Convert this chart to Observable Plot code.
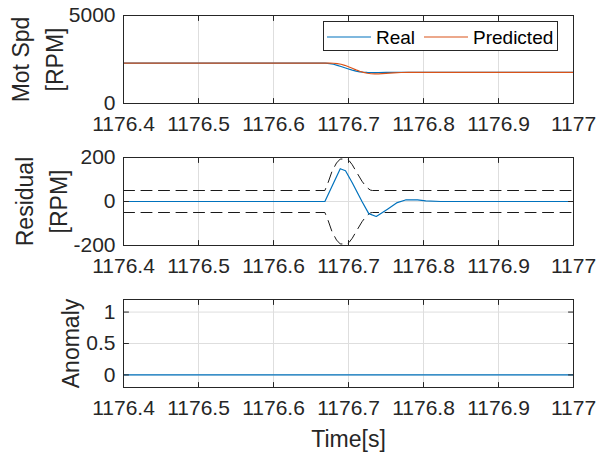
<!DOCTYPE html>
<html>
<head>
<meta charset="utf-8">
<script src="https://cdn.jsdelivr.net/npm/d3@7"></script>
<script src="https://cdn.jsdelivr.net/npm/@observablehq/plot@0.6"></script>
<style>
  html, body { margin: 0; padding: 0; background: #ffffff; }
  #chart { position: relative; width: 596px; height: 453px; background: #ffffff; }
  #chart svg { display: block; }
  #legend { position: absolute; left: 323px; top: 21px; }
</style>
</head>
<body>
<div id="chart"></div>
<script>
// ---- shared time axis ----
const xTicks = [1176.4, 1176.5, 1176.6, 1176.7, 1176.8, 1176.9, 1177];
const xTickLabels = ["1176.4", "1176.5", "1176.6", "1176.7", "1176.8", "1176.9", "1177"];

// ---- motor speed [RPM] ----
const speedTime = [1176.40, 1176.669, 1176.675, 1176.68, 1176.685, 1176.69, 1176.695, 1176.70,
                   1176.705, 1176.71, 1176.715, 1176.72, 1176.725, 1176.73, 1176.735, 1176.74,
                   1176.75, 1176.76, 1176.77, 1176.78, 1176.80, 1176.90, 1177.00];
const speedReal = [2290, 2290, 2270, 2230, 2170, 2100, 2030, 1960,
                   1895, 1840, 1800, 1775, 1765, 1760, 1758, 1760,
                   1765, 1770, 1772, 1772, 1772, 1772, 1772];
const speedPredicted = [2290, 2290, 2290, 2288, 2270, 2230, 2170, 2090,
                        2000, 1910, 1830, 1770, 1720, 1690, 1680, 1685,
                        1710, 1740, 1762, 1772, 1772, 1772, 1772];
const speedTicks = [0, 5000];
const speedTickLabels = ["0", "5000"];

// ---- residual [RPM] and its detection threshold ----
const residualTime = [1176.40, 1176.6685, 1176.689, 1176.696, 1176.705, 1176.718, 1176.727, 1176.737,
                      1176.752, 1176.765, 1176.776, 1176.792, 1176.803, 1176.823, 1176.90, 1177.00];
const residualValue = [0, 0, 149, 140, 85, 0, -55, -68,
                       -35, -5, 7, 7, 3, 0, 0, 0];
const thresholdTime = [1176.40, 1176.6685, 1176.673, 1176.678, 1176.684, 1176.689, 1176.698, 1176.701,
                       1176.705, 1176.711, 1176.718, 1176.724, 1176.729, 1176.732, 1177.00];
const thresholdUpper = [50, 50, 88, 137, 175, 193, 193, 185, 167, 132, 92, 65, 52, 50, 50];
const thresholdLower = [-50, -50, -88, -137, -175, -193, -193, -185, -167, -132, -92, -65, -52, -50, -50];
const residualTicks = [-200, 0, 200];
const residualTickLabels = ["-200", "0", "200"];

// ---- anomaly flag ----
const anomalyTime = [1176.40, 1177.00];
const anomalyValue = [0, 0];
const anomalyTicks = [0, 0.5, 1];
const anomalyTickLabels = ["0", "0.5", "1"];

// ---- legend ----
const seriesNames = ["Real", "Predicted"];
const seriesColors = ["#0072BD", "#D95319"];

// ---- style ----
const FONT = '"Liberation Sans", Arial, Helvetica, sans-serif';
const INK = "#262626";
const GRID = "#dedede";
const TICK_FONT = 21;
const LABEL_FONT = 23;

const rows = (xs, ys) => xs.map((t, i) => ({t, v: ys[i]}));

// short tick marks drawn inward from the frame
const tickShape = {draw(context, l) { context.moveTo(0, 0); context.lineTo(0, -l); }};
function innerTicks(xs, ys) {
  const o = {length: 5, anchor: "start", shape: tickShape, stroke: INK, strokeWidth: 1};
  return [
    Plot.vector(xs, {...o, x: d => d, frameAnchor: "bottom", rotate: 0}),
    Plot.vector(xs, {...o, x: d => d, frameAnchor: "top", rotate: 180}),
    Plot.vector(ys, {...o, y: d => d, frameAnchor: "left", rotate: 90}),
    Plot.vector(ys, {...o, y: d => d, frameAnchor: "right", rotate: -90})
  ];
}

function panel({height, marginBottom, yDomain, yTicks, yTickLabels, yGrid, label, labelDx, marks, extra = []}) {
  const xFmt = new Map(xTicks.map((d, i) => [d, xTickLabels[i]]));
  const yFmt = new Map(yTicks.map((d, i) => [d, yTickLabels[i]]));
  return Plot.plot({
    width: 596,
    height,
    marginTop: 15,
    marginBottom,
    marginLeft: 123,
    marginRight: 23,
    style: {fontFamily: FONT, fontSize: TICK_FONT + "px", color: INK, background: "transparent", overflow: "visible"},
    x: {domain: [1176.4, 1177]},
    y: {domain: yDomain},
    marks: [
      Plot.gridX(xTicks, {stroke: GRID, strokeOpacity: 1, strokeWidth: 1}),
      Plot.gridY(yGrid, {stroke: GRID, strokeOpacity: 1, strokeWidth: 1}),
      ...marks,
      ...innerTicks(xTicks, yTicks),
      Plot.frame({stroke: INK, strokeWidth: 1}),
      Plot.axisX(xTicks, {tickSize: 0, tickPadding: 13, tickFormat: d => xFmt.get(d), label: null, fill: INK, fontSize: TICK_FONT}),
      Plot.axisY(yTicks, {tickSize: 0, tickPadding: 8, tickFormat: d => yFmt.get(d), label: null, fill: INK, fontSize: TICK_FONT}),
      Plot.text([label], {
        text: d => d, frameAnchor: "left", rotate: -90, dx: labelDx,
        textAnchor: "middle", lineAnchor: "middle", lineHeight: 1.46,
        fontSize: LABEL_FONT, fill: INK
      }),
      ...extra
    ]
  });
}

const chart = document.getElementById("chart");

// motor speed: real vs predicted
chart.appendChild(panel({
  height: 142, marginBottom: 39,
  yDomain: [0, 5000], yTicks: speedTicks, yTickLabels: speedTickLabels, yGrid: speedTicks,
  label: "Mot Spd\n[RPM]", labelDx: -88,
  marks: [
    Plot.line(rows(speedTime, speedReal), {x: "t", y: "v", stroke: seriesColors[0], strokeWidth: 1.2}),
    Plot.line(rows(speedTime, speedPredicted), {x: "t", y: "v", stroke: seriesColors[1], strokeWidth: 1.2})
  ]
}));

// residual with threshold envelope
chart.appendChild(panel({
  height: 142, marginBottom: 39,
  yDomain: [-200, 200], yTicks: residualTicks, yTickLabels: residualTickLabels, yGrid: residualTicks,
  label: "Residual\n[RPM]", labelDx: -84,
  marks: [
    Plot.line(rows(thresholdTime, thresholdUpper), {x: "t", y: "v", stroke: "#1a1a1a", strokeWidth: 1, strokeDasharray: "11,6.5"}),
    Plot.line(rows(thresholdTime, thresholdLower), {x: "t", y: "v", stroke: "#1a1a1a", strokeWidth: 1, strokeDasharray: "11,6.5"}),
    Plot.line(rows(residualTime, residualValue), {x: "t", y: "v", stroke: seriesColors[0], strokeWidth: 1.2})
  ]
}));

// anomaly flag
chart.appendChild(panel({
  height: 169, marginBottom: 66,
  yDomain: [-0.2, 1.2], yTicks: anomalyTicks, yTickLabels: anomalyTickLabels, yGrid: anomalyTicks,
  label: "Anomaly", labelDx: -55,
  marks: [
    Plot.line(rows(anomalyTime, anomalyValue), {x: "t", y: "v", stroke: seriesColors[0], strokeWidth: 1.2})
  ],
  extra: [
    Plot.text(["Time[s]"], {text: d => d, frameAnchor: "bottom", dy: 59, lineAnchor: "bottom", fontSize: LABEL_FONT, fill: INK})
  ]
}));

// legend box for the speed panel
const legend = d3.create("svg")
  .attr("id", "legend")
  .attr("width", 236).attr("height", 31)
  .style("font-family", FONT).style("font-size", "19px");
legend.append("rect")
  .attr("x", 0.5).attr("y", 0.5).attr("width", 234).attr("height", 29)
  .attr("fill", "#ffffff").attr("stroke", INK).attr("stroke-width", 1);
const legendLineX = [4, 101];
const legendTextX = [53, 150];
seriesNames.forEach((name, i) => {
  legend.append("line")
    .attr("x1", legendLineX[i]).attr("x2", legendLineX[i] + 44)
    .attr("y1", 16).attr("y2", 16)
    .attr("stroke", seriesColors[i]).attr("stroke-width", 1.2);
  legend.append("text")
    .attr("x", legendTextX[i]).attr("y", 23)
    .attr("fill", "#000000").text(name);
});
chart.appendChild(legend.node());
</script>
</body>
</html>
